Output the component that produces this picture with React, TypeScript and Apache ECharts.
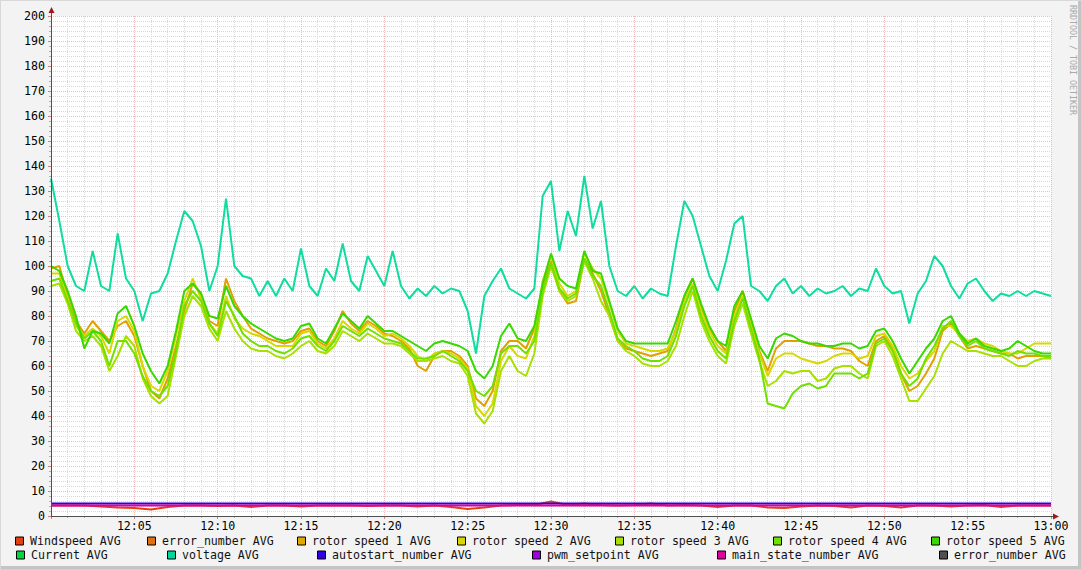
import React, { useEffect, useRef } from "react";
import * as echarts from "echarts";

// Sample spacing in minutes after 12:00
const STEP_MIN = 0.5;
const WIND_STEP_MIN = 1;

const rotorSpeed1 = [
  99, 100, 88, 78, 73, 78, 74, 70, 76, 78, 72, 60, 50, 47, 55, 68, 82, 93, 89, 78,
  76, 95, 86, 80, 75, 73, 71, 70, 69, 70, 74, 75, 70, 68, 74, 82, 77, 74, 78, 76,
  73, 72, 70, 67, 60, 58, 64, 66, 66, 64, 60, 47, 44, 50, 66, 70, 70, 67, 75, 92,
  102, 90, 85, 86, 103, 97, 90, 80, 70, 67, 66, 65, 64, 65, 66, 75, 88, 95, 84, 75,
  70, 66, 82, 90, 78, 66, 58, 67, 70, 70, 70, 69, 68, 68, 67, 67, 66, 62, 60, 70,
  72, 67, 57, 50, 52, 57, 63, 74, 77, 72, 67, 68, 67, 66, 65, 65, 63, 64, 64, 64, 63,
];
const rotorSpeed2 = [
  97, 97, 87, 76, 72, 75, 72, 65, 78, 80, 74, 60, 52, 50, 58, 72, 86, 95, 87, 77,
  73, 88, 79, 75, 73, 72, 70, 68, 68, 68, 73, 74, 69, 67, 71, 78, 75, 73, 77, 75,
  72, 73, 71, 68, 64, 62, 65, 66, 65, 63, 59, 44, 40, 45, 62, 68, 64, 63, 72, 94,
  104, 93, 88, 90, 105, 99, 95, 85, 74, 69, 68, 67, 66, 66, 67, 74, 86, 93, 82, 74,
  68, 65, 80, 88, 76, 65, 56, 63, 65, 65, 63, 62, 61, 62, 64, 65, 65, 63, 64, 72,
  73, 68, 60, 55, 57, 62, 66, 76, 76, 73, 70, 71, 69, 68, 66, 65, 65, 67, 69, 69, 69,
];
const rotorSpeed3 = [
  92, 93, 85, 74, 70, 72, 68, 58, 64, 72, 68, 55, 48, 45, 48, 64, 80, 88, 84, 75,
  70, 82, 75, 70, 67, 66, 66, 64, 63, 65, 68, 70, 66, 65, 68, 74, 72, 70, 73, 71,
  69, 69, 68, 65, 62, 62, 63, 64, 62, 61, 56, 41, 37, 42, 58, 64, 58, 56, 65, 88,
  100, 90, 86, 88, 102, 95, 86, 80, 70, 66, 64, 61, 60, 60, 62, 68, 80, 90, 78, 70,
  64, 61, 76, 85, 73, 62, 52, 54, 58, 57, 58, 58, 54, 55, 59, 60, 60, 57, 55, 68,
  70, 64, 55, 46, 46, 51, 56, 65, 70, 68, 66, 66, 65, 64, 64, 62, 60, 60, 62, 63, 63,
];
const rotorSpeed4 = [
  94, 95, 86, 77, 71, 74, 70, 60, 70, 70, 65, 56, 50, 48, 52, 66, 84, 90, 86, 77,
  72, 86, 80, 73, 70, 68, 68, 66, 65, 67, 71, 72, 68, 66, 70, 76, 74, 72, 75, 73,
  71, 70, 69, 66, 63, 63, 64, 66, 64, 62, 58, 50, 48, 52, 65, 68, 68, 65, 70, 90,
  101, 91, 87, 89, 103, 96, 92, 82, 71, 68, 66, 63, 62, 62, 64, 72, 84, 92, 80, 72,
  66, 63, 78, 87, 75, 63, 45, 44, 43, 49, 52, 53, 51, 52, 57, 57, 57, 55, 57, 69,
  71, 66, 57, 52, 55, 63, 68, 75, 78, 72, 68, 70, 67, 66, 65, 64, 66, 65, 65, 64, 64,
];
const rotorSpeed5 = [
  100, 98, 90, 80, 67, 74, 73, 69, 81, 84, 76, 65, 58, 53, 60, 74, 90, 93, 89, 80,
  79, 92, 84, 80, 77, 75, 73, 71, 70, 71, 76, 77, 71, 69, 75, 81, 78, 75, 80, 77,
  74, 74, 72, 70, 68, 66, 69, 70, 69, 68, 66, 58, 55, 60, 72, 77, 71, 70, 76, 93,
  105, 95, 92, 91, 106, 98, 97, 86, 75, 70, 69, 69, 69, 69, 69, 78, 88, 95, 85, 76,
  70, 68, 84, 90, 79, 68, 63, 71, 73, 72, 70, 69, 69, 68, 68, 69, 69, 67, 68, 74,
  75, 70, 63, 57, 62, 67, 71, 78, 80, 73, 69, 71, 68, 67, 66, 67, 70, 68, 66, 65, 65,
];
const voltage = [
  135, 118, 100, 92, 90, 106, 92, 90, 113, 95, 90, 78, 89, 90, 97, 110, 122, 118, 108, 90,
  100, 127, 100, 96, 95, 88, 94, 88, 95, 90, 107, 92, 88, 99, 94, 109, 94, 90, 104, 98,
  92, 106, 92, 87, 91, 88, 92, 89, 91, 90, 82, 65, 88, 94, 99, 91, 89, 87, 91, 128,
  134, 106, 122, 112, 136, 115, 126, 100, 90, 88, 92, 87, 91, 89, 88, 108, 126, 120, 108, 96,
  90, 102, 117, 120, 92, 90, 86, 92, 95, 89, 92, 88, 91, 89, 90, 92, 88, 91, 90, 99,
  92, 89, 90, 77, 89, 94, 104, 100, 92, 87, 93, 95, 90, 86, 89, 88, 90, 88, 90, 89, 88,
];
const windspeed = [
  4.2, 4.2, 4.2, 3.8, 3.4, 3.2, 2.6, 3.6, 4.2, 4.2, 4.0, 4.2, 3.6, 4.2, 4.2, 3.8,
  4.2, 4.2, 4.2, 4.0, 4.2, 4.2, 3.8, 4.2, 3.6, 2.8, 3.4, 4.2, 4.4, 4.4, 5.8, 4.4,
  5.0, 4.4, 4.2, 4.4, 5.0, 4.2, 4.4, 4.2, 3.6, 4.2, 4.2, 3.4, 3.2, 3.8, 4.2, 4.0,
  3.4, 4.2, 4.0, 3.4, 4.2, 4.2, 3.8, 4.2, 4.4, 3.6, 4.2, 4.2, 4.2,
];
const flatTimes = [0, 60];
const autostartNumber = [5, 5];
const mainStateNumber = [4.2, 4.2];

const yTickMin = 0;
const yTickMax = 200;
const yTickStep = 10;
const xTickStep = 5;

const toPairs = (vals: number[], step: number) => vals.map((v, i) => [i * step, v]);
const toPairsT = (times: number[], vals: number[]) => vals.map((v, i) => [times[i], v]);

const MONO = "'DejaVu Sans Mono', monospace";

const legendItems = [
  { name: "Windspeed AVG", color: "#e2400f", x: 15, row: 0 },
  { name: "error_number AVG", color: "#e07010", x: 147, row: 0 },
  { name: "rotor speed 1 AVG", color: "#e0a800", x: 297, row: 0 },
  { name: "rotor speed 2 AVG", color: "#d8d800", x: 457, row: 0 },
  { name: "rotor speed 3 AVG", color: "#a8e000", x: 615, row: 0 },
  { name: "rotor speed 4 AVG", color: "#70e000", x: 773, row: 0 },
  { name: "rotor speed 5 AVG", color: "#38d800", x: 931, row: 0 },
  { name: "Current AVG", color: "#00d840", x: 16, row: 1 },
  { name: "voltage AVG", color: "#00d8a0", x: 167, row: 1 },
  { name: "autostart_number AVG", color: "#3000e0", x: 317, row: 1 },
  { name: "pwm_setpoint AVG", color: "#a000e0", x: 532, row: 1 },
  { name: "main_state_number AVG", color: "#e000a0", x: 717, row: 1 },
  { name: "error_number AVG", color: "#505050", x: 939, row: 1 },
];

export default function App() {
  const ref = useRef<HTMLDivElement>(null);
  useEffect(() => {
    if (!ref.current) return;
    const chart = echarts.init(ref.current, undefined, { renderer: "svg" });
    const line = (name: string, color: string, data: number[][], z = 2) => ({
      name,
      type: "line",
      data,
      showSymbol: false,
      symbol: "none",
      z,
      lineStyle: { color, width: 2 },
      itemStyle: { color },
    });
    const graphics: any[] = [];
    // frame
    graphics.push({ type: "rect", shape: { x: 1078, y: 0, width: 3, height: 569 }, style: { fill: "#c4c4c4" }, silent: true });
    graphics.push({ type: "rect", shape: { x: 0, y: 566, width: 1081, height: 3 }, style: { fill: "#c4c4c4" }, silent: true });
    graphics.push({ type: "rect", shape: { x: 0, y: 0, width: 1081, height: 1 }, style: { fill: "#d8d8d8" }, silent: true });
    graphics.push({ type: "rect", shape: { x: 0, y: 0, width: 1, height: 569 }, style: { fill: "#d8d8d8" }, silent: true });
    // axes lines & arrows
    graphics.push({ type: "line", shape: { x1: 51.5, y1: 12, x2: 51.5, y2: 516 }, style: { stroke: "#505050", lineWidth: 1 }, z: 50 });
    graphics.push({ type: "line", shape: { x1: 51, y1: 516.5, x2: 1054, y2: 516.5 }, style: { stroke: "#505050", lineWidth: 1 }, z: 50 });
    graphics.push({ type: "polygon", shape: { points: [[48.5, 13], [54.5, 13], [51.5, 7]] }, style: { fill: "#a01818" }, z: 50 });
    graphics.push({ type: "polygon", shape: { points: [[1053, 513.5], [1053, 519.5], [1059, 516.5]] }, style: { fill: "#a01818" }, z: 50 });
    // watermark
    graphics.push({
      type: "text",
      x: 1077,
      y: 5,
      rotation: -Math.PI / 2,
      style: { text: "RRDTOOL / TOBI OETIKER", font: `8.3px ${MONO}`, fill: "#a8a8a8", textAlign: "left", textVerticalAlign: "top" },
    });
    // legend
    legendItems.forEach((it) => {
      const cy = it.row === 0 ? 541 : 555;
      graphics.push({
        type: "rect",
        shape: { x: it.x + 0.5, y: cy - 4, width: 8, height: 8 },
        style: { fill: it.color, stroke: "#000", lineWidth: 1 },
      });
      graphics.push({
        type: "text",
        x: it.x + 15,
        y: cy,
        style: { text: it.name, font: `11.6px ${MONO}`, fill: "#111", textAlign: "left", textVerticalAlign: "middle" },
      });
    });

    const axisLabel = { fontFamily: MONO, fontSize: 11.6, color: "#000" };
    const majorGrid = { show: true, lineStyle: { color: "#eebcbc", type: "dotted", width: 1 } };
    const minorGrid = { show: true, lineStyle: { color: "#d8d8d8", type: "dotted", width: 1 } };
    chart.setOption({
      animation: false,
      backgroundColor: "#f3f3f3",
      grid: { left: 51, top: 16, width: 1000, height: 500, show: true, backgroundColor: "#ffffff", borderWidth: 0 },
      xAxis: {
        type: "value",
        min: 0,
        max: 60,
        interval: xTickStep,
        axisLine: { show: false },
        axisTick: { show: true, length: 3, lineStyle: { color: "#d08080" } },
        minorTick: { show: true, splitNumber: 5, length: 2, lineStyle: { color: "#b0b0b0" } },
        axisLabel: {
          ...axisLabel,
          margin: 4,
          formatter: (v: number) => {
            if (v === 0) return "";
            const h = 12 + Math.floor(v / 60);
            const m = v % 60;
            return `${h}:${m < 10 ? "0" + m : m}`;
          },
        },
        splitLine: majorGrid,
        minorSplitLine: minorGrid,
      },
      yAxis: {
        type: "value",
        min: yTickMin,
        max: yTickMax,
        interval: yTickStep,
        axisLine: { show: false },
        axisTick: { show: true, length: 3, lineStyle: { color: "#d08080" } },
        minorTick: { show: true, splitNumber: 5, length: 2, lineStyle: { color: "#b0b0b0" } },
        axisLabel: { ...axisLabel, margin: 6 },
        splitLine: majorGrid,
        minorSplitLine: minorGrid,
      },
      series: [
        line("Windspeed AVG", "#e2400f", toPairs(windspeed, WIND_STEP_MIN)),
        line("rotor speed 1 AVG", "#e0a000", toPairs(rotorSpeed1, STEP_MIN)),
        line("rotor speed 2 AVG", "#d8d800", toPairs(rotorSpeed2, STEP_MIN)),
        line("rotor speed 3 AVG", "#a8e000", toPairs(rotorSpeed3, STEP_MIN)),
        line("rotor speed 4 AVG", "#70e000", toPairs(rotorSpeed4, STEP_MIN)),
        line("rotor speed 5 AVG", "#38d800", toPairs(rotorSpeed5, STEP_MIN)),
        line("voltage AVG", "#10dca0", toPairs(voltage, STEP_MIN)),
        line("autostart_number AVG", "#3000e0", toPairsT(flatTimes, autostartNumber)),
        line("main_state_number AVG", "#e000a0", toPairsT(flatTimes, mainStateNumber)),
      ],
      graphic: graphics,
    });
    return () => chart.dispose();
  }, []);
  return <div ref={ref} style={{ position: "absolute", left: 0, top: 0, width: 1081, height: 569 }} />;
}
